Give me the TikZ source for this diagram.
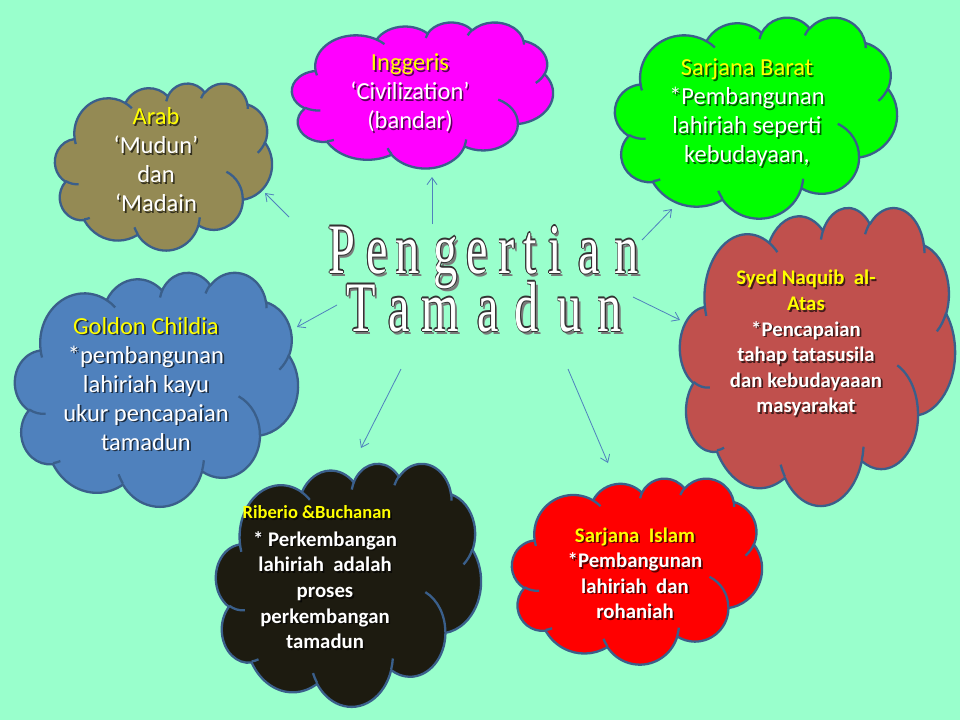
\documentclass[tikz,border=0pt]{standalone}
\usepackage{fontspec}
\usepackage{graphicx}
\setmainfont{Carlito}
\newfontfamily\titlefont{Liberation Serif}
\usetikzlibrary{arrows.meta}

\definecolor{bg}{HTML}{99FFCC}
\definecolor{rim}{HTML}{3A5F8B}
\definecolor{linkc}{HTML}{4F81BD}
\definecolor{arabc}{HTML}{948A54}
\definecolor{inggc}{HTML}{FF00FF}
\definecolor{baratc}{HTML}{00FF00}
\definecolor{syedc}{HTML}{C0504D}
\definecolor{goldc}{HTML}{4F81BD}
\definecolor{ribc}{HTML}{1D1B10}
\definecolor{islamc}{HTML}{FF0000}
\definecolor{capc}{HTML}{FFFF00}
\definecolor{artline}{HTML}{333333}
\definecolor{artshadow}{HTML}{7A7A7A}
\colorlet{shc}{black}

% parametric angle of the point seen under a given angle on an ellipse
\pgfmathdeclarefunction{vpa}{3}{%
  \begingroup
  \pgfmathparse{atan2((#1)*sin(#3),(#2)*cos(#3))}%
  \pgfmathsmuggle\pgfmathresult
  \endgroup}
% elliptic arc: x radius, y radius, start angle, sweep (angles as seen from the centre)
\newcommand\ooarc[4]{arc[x radius=#1, y radius=#2,
  start angle={vpa(#1,#2,#3)},
  delta angle={mod(vpa(#1,#2,#3+#4)-vpa(#1,#2,#3)+720,360)}]}

% cloud outline on a 432 x 432 grid
\newcommand\cloudbody{(39.00,143.70)
  \ooarc{67.53}{91.90}{-190.4875}{123.7805}
  \ooarc{53.33}{72.67}{-144.1024}{89.9452}
  \ooarc{43.65}{59.45}{-145.8079}{99.7230}
  \ooarc{48.57}{65.95}{-130.9861}{117.2417}
  \ooarc{53.33}{72.73}{-78.7089}{109.0269}
  \ooarc{67.75}{92.20}{-46.2673}{130.2690}
  \ooarc{57.85}{78.67}{0.6250}{114.0333}
  \ooarc{67.52}{92.15}{22.4516}{115.1726}
  \ooarc{77.20}{105.43}{66.2426}{75.7110}
  \ooarc{43.60}{59.18}{-274.9421}{146.7356}
  \ooarc{43.45}{59.45}{-246.8285}{152.5189}
  -- cycle}
% the short inner puff lines
\newcommand\cloudinner{
  (46.93,261.77) \ooarc{43.45}{59.45}{86.742}{26.4295}
  (69.28,348.99) \ooarc{43.60}{59.18}{73.6105}{11.4475}
  (164.78,390.90) \ooarc{67.52}{92.15}{137.6242}{14.0811}
  (288.27,347.51) \ooarc{67.52}{92.15}{6.4533}{15.9984}
  (341.29,229.54) \ooarc{57.85}{78.67}{-70.2924}{70.9174}
  (417.98,153.54) \ooarc{53.33}{72.73}{30.3180}{27.7515}
  (383.24,54.26) \ooarc{48.57}{65.95}{-13.7443}{14.8589}
  (290.78,39.52) \ooarc{48.57}{65.95}{-149.1815}{18.1954}
  (221.41,47.20) \ooarc{43.65}{59.45}{-163.4943}{17.6864}
  (140.00,51.92) \ooarc{67.53}{91.90}{-66.7070}{12.3194}
  (41.27,157.89) \ooarc{67.53}{91.90}{157.6544}{11.8582}}

% \drawcloud{left}{top}{right}{bottom}{fill}
\newcommand\drawcloud[5]{%
  \begin{scope}[shift={(#1,#2)}, xscale={(#3-#1)/432}, yscale={(#4-#2)/432}]
    \filldraw[fill=#5, cloudrim] \cloudbody;
    \draw[cloudrim] \cloudinner;
  \end{scope}}

% text with a soft drop shadow
\newcommand\shd[1]{\makebox[0pt][l]{\hspace*{1.6pt}\raisebox{-1.6pt}{\textcolor{shc}{#1}}}#1}
\newcommand\capline[1]{\textcolor{capc}{\shd{#1}}}

% outlined title letter with a grey shadow
\newcommand\artcopy[3]{\makebox[0pt][l]{\hspace*{#1}\raisebox{#2}{\textcolor{artline}{#3}}}}
\newcommand\wordart[1]{%
  \makebox[0pt][l]{\hspace*{3.5pt}\raisebox{-3.5pt}{\textcolor{artshadow}{#1}}}%
  \artcopy{-1.1pt}{0pt}{#1}\artcopy{1.1pt}{0pt}{#1}%
  \artcopy{0pt}{-1.1pt}{#1}\artcopy{0pt}{1.1pt}{#1}%
  \artcopy{-0.8pt}{-0.8pt}{#1}\artcopy{0.8pt}{0.8pt}{#1}%
  \artcopy{-0.8pt}{0.8pt}{#1}\artcopy{0.8pt}{-0.8pt}{#1}%
  \textcolor{white}{#1}}

\tikzset{
  cloudrim/.style={draw=rim, line width=2.3pt, line join=round},
  ctext/.style={align=center, text=white, inner sep=0pt,
    execute at begin node={\colorlet{shc}{black!65!#1}}},
  plain/.style={font=\fontsize{24.5}{29}\selectfont},
  heavy/.style={font=\bfseries\fontsize{20.8}{25.6}\selectfont},
  link/.style={draw=linkc, line width=0.8pt, -{Straight Barb[length=7pt,width=10pt]}},
  letter/.style={anchor=base, inner sep=0pt, font=\titlefont\fontsize{71}{71}\selectfont}
}

\begin{document}
\begin{tikzpicture}[x=1pt, y=-1pt]
\useasboundingbox (0,0) rectangle (960,720);
\fill[bg] (0,0) rectangle (960,720);

% clouds
\drawcloud{55}{83}{272}{250}{arabc}
\drawcloud{292}{22}{553}{168}{inggc}
\drawcloud{615}{17}{897}{218}{baratc}
\drawcloud{680}{207}{955}{505}{syedc}
\drawcloud{15}{272}{298}{506}{goldc}
\drawcloud{216}{463}{481}{706}{ribc}
\drawcloud{512}{478}{762}{664}{islamc}

% cloud texts
\node[ctext=arabc, plain] (arab) at (156,160.5)
  {\capline{Arab}\\ \shd{‘Mudun’}\\ \shd{dan}\\ \shd{‘Madain}};
\node[ctext=inggc, plain] (ingg) at (410,93.5)
  {\capline{Inggeris}\\ \shd{‘Civilization’}\\ \shd{(bandar)}};
\node[ctext=baratc, plain] (barat) at (747,113.5)
  {\capline{Sarjana Barat}\\ \shd{*Pembangunan}\\ \shd{lahiriah seperti}\\ \shd{kebudayaan,}};
\node[ctext=syedc, heavy] (syed) at (806,344)
  {\capline{Syed Naquib\ \ al-}\\ \capline{Atas}\\ \shd{*Pencapaian}\\ \shd{tahap tatasusila}\\ \shd{dan kebudayaaan}\\ \shd{masyarakat}};
\node[ctext=goldc, plain] (gold) at (146,384.5)
  {\capline{Goldon Childia}\\ \shd{*pembangunan}\\ \shd{lahiriah kayu}\\ \shd{ukur pencapaian}\\ \shd{tamadun}};
\node[ctext=ribc, font=\bfseries\fontsize{18.5}{22}\selectfont] (ribhead) at (317,513)
  {\capline{Riberio \&Buchanan}};
\node[ctext=ribc, heavy] (ribbody) at (325,591)
  {\shd{* Perkembangan}\\ \shd{lahiriah\ \ adalah}\\ \shd{proses}\\ \shd{perkembangan}\\ \shd{tamadun}};
\node[ctext=islamc, heavy] (islam) at (635,574)
  {\capline{Sarjana\ \ Islam}\\ \shd{*Pembangunan}\\ \shd{lahiriah\ \ dan}\\ \shd{rohaniah}};

% title
\foreach \c/\x [count=\i] in {P/342,e/377,n/408,g/446,e/477,r/507,t/530,i/555,a/589,n/627}
  \node[letter] (pl\i) at (\x,273) {\scalebox{0.68}[1]{\wordart{\c}}};
\foreach \c/\x [count=\i] in {T/361,a/399,m/440,a/488,d/527,u/570,n/610}
  \node[letter] (tl\i) at (\x,331) {\scalebox{0.68}[1]{\wordart{\c}}};

% arrow ends
\coordinate (s1) at (289,217); \coordinate (e1) at (265,193);
\coordinate (s2) at (432,224); \coordinate (e2) at (432,177);
\coordinate (s3) at (642,240); \coordinate (e3) at (672,209);
\coordinate (s4) at (633,297); \coordinate (e4) at (680,320);
\coordinate (s5) at (337,305); \coordinate (e5) at (297,327);
\coordinate (s6) at (401,369); \coordinate (e6) at (361,448);
\coordinate (s7) at (568,369); \coordinate (e7) at (608,463);
\foreach \k in {1,...,7} \draw[link] (s\k) -- (e\k);
\end{tikzpicture}
\end{document}
